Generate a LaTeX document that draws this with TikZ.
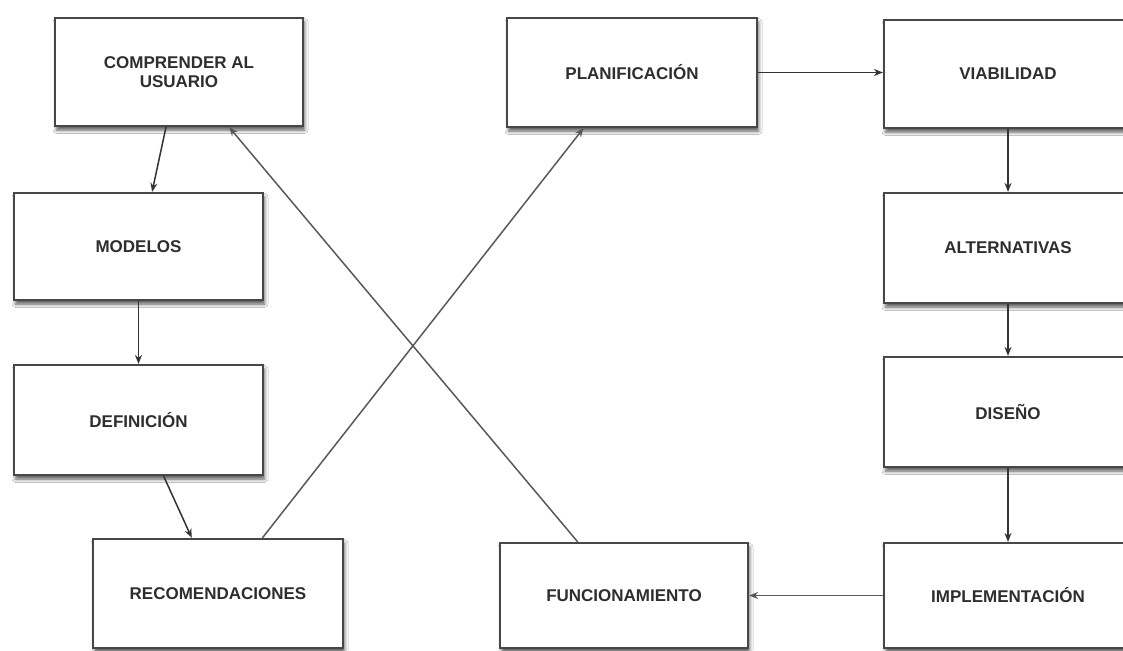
\documentclass[tikz,border=0pt]{standalone}
\usepackage{fontspec}
\setmainfont{Liberation Sans}
\usetikzlibrary{arrows.meta,calc,shadows.blur}
\tikzset{
  box/.style={draw=black!72, line width=2.2pt, fill=white, rectangle,
    font=\fontsize{17}{19.5}\selectfont\bfseries, text=black!82, align=center,
    blur shadow={shadow xshift=1.5pt, shadow yshift=-4pt, shadow blur radius=3.5pt, shadow opacity=65}},
  conn/.style={draw=black!80, line width=1.5pt, -{Stealth[length=9pt,width=7pt]}},
  conn2/.style={draw=black!65, line width=1.5pt, -{Stealth[length=9pt,width=7pt]}}
}
\begin{document}
\begin{tikzpicture}[x=1pt,y=-1pt]
\clip (0,0) rectangle (1123,650);
\fill[white] (0,0) rectangle (1123,650);
\node[box, minimum width=248pt, minimum height=108pt] (comp) at (179,72) {COMPRENDER AL\\USUARIO};
\node[box, minimum width=249pt, minimum height=107pt] (model) at (138.5,246.5) {MODELOS};
\node[box, minimum width=249pt, minimum height=110pt] (defin) at (138.5,420) {DEFINICIÓN};
\node[box, minimum width=250pt, minimum height=109pt] (recom) at (218,593.5) {RECOMENDACIONES};
\node[box, minimum width=250pt, minimum height=109pt] (planif) at (632,72.5) {PLANIFICACIÓN};
\node[box, minimum width=248pt, minimum height=105pt] (func) at (624,595.5) {FUNCIONAMIENTO};
\node[box, minimum width=248pt, minimum height=108pt] (viab) at (1008,74) {VIABILIDAD};
\node[box, minimum width=248pt, minimum height=110pt] (alt) at (1008,248) {ALTERNATIVAS};
\node[box, minimum width=248pt, minimum height=110pt] (dis) at (1008,412) {DISEÑO};
\node[box, minimum width=248pt, minimum height=105pt] (impl) at (1008,595.5) {IMPLEMENTACIÓN};

\draw[conn] ($(comp.south west)!0.448!(comp.south east)$) -- ($(model.north west)!0.554!(model.north east)$);
\draw[conn] (model.south) -- (defin.north);
\draw[conn] ($(defin.south west)!0.6!(defin.south east)$) -- ($(recom.north west)!0.396!(recom.north east)$);
\draw[conn2] ($(recom.north west)!0.676!(recom.north east)$) -- ($(planif.south west)!0.308!(planif.south east)$);
\draw[conn2] ($(func.north west)!0.315!(func.north east)$) -- ($(comp.south west)!0.70!(comp.south east)$);
\draw[conn] (planif.east) -- (planif.east -| viab.west);
\draw[conn] (viab.south) -- (alt.north);
\draw[conn] (alt.south) -- (dis.north);
\draw[conn] (dis.south) -- (impl.north);
\draw[conn2] (impl.west |- func.east) -- (func.east);
\end{tikzpicture}
\end{document}
